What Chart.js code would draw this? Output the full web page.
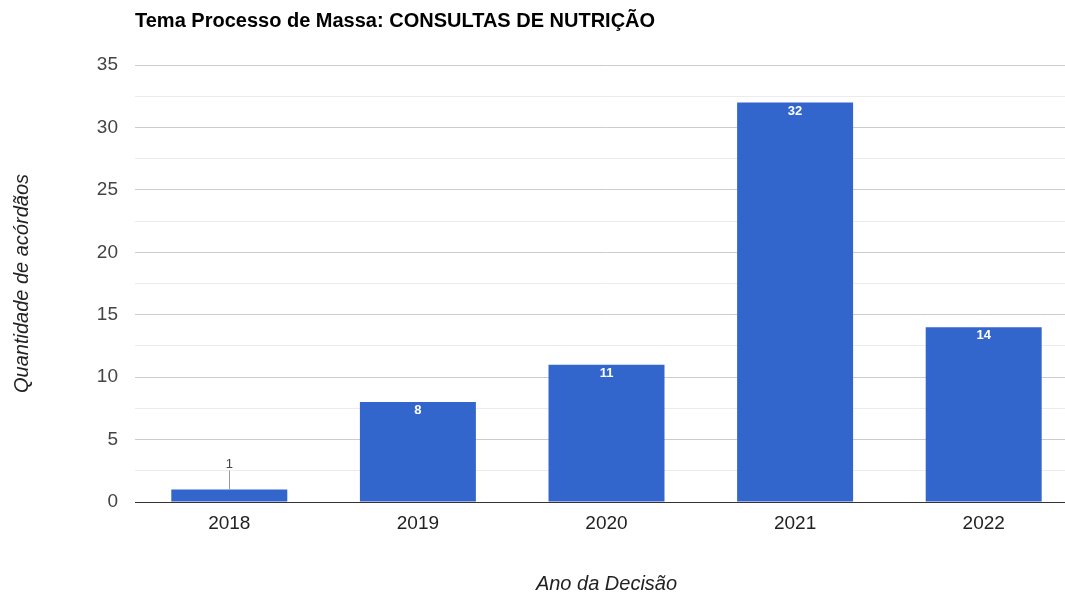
<!DOCTYPE html>
<html>
<head>
<meta charset="utf-8">
<script src="https://cdn.jsdelivr.net/npm/chart.js@4"></script>
<style>
  html, body { margin: 0; padding: 0; overflow: hidden; background: #fff; }
  #wrap { width: 1078px; height: 596px; }
</style>
</head>
<body>
<div id="wrap"><canvas id="chart" width="1078" height="596"></canvas></div>
<script>
const years = ["2018", "2019", "2020", "2021", "2022"];
const counts = [1, 8, 11, 32, 14];
const chartTitle = "Tema Processo de Massa: CONSULTAS DE NUTRIÇÃO";
const yTitle = "Quantidade de acórdãos";
const xTitle = "Ano da Decisão";

Chart.defaults.font.family = "'Liberation Sans', Arial, sans-serif";

// title drawn at the left edge of the plot, like the original
const titlePlugin = {
  id: "leftTitle",
  afterDraw(chart) {
    const ctx = chart.ctx;
    ctx.save();
    ctx.font = "bold 20px 'Liberation Sans', Arial, sans-serif";
    ctx.fillStyle = "#000";
    ctx.textAlign = "left";
    ctx.textBaseline = "middle";
    ctx.fillText(chartTitle, chart.chartArea.left, 21);
    ctx.restore();
  }
};

// value labels inside the bar top, or above with a leader when the bar is short
const labelPlugin = {
  id: "barLabels",
  afterDatasetsDraw(chart) {
    const ctx = chart.ctx;
    const meta = chart.getDatasetMeta(0);
    ctx.save();
    ctx.textAlign = "center";
    meta.data.forEach((bar, i) => {
      const v = counts[i];
      const h = bar.base - bar.y;
      if (h > 20) {
        ctx.font = "bold 13px 'Liberation Sans', Arial, sans-serif";
        ctx.fillStyle = "#fff";
        ctx.textBaseline = "top";
        ctx.fillText(String(v), bar.x, bar.y + 2);
      } else {
        ctx.strokeStyle = "#999";
        ctx.lineWidth = 1;
        ctx.beginPath();
        ctx.moveTo(Math.round(bar.x) + 0.5, bar.y);
        ctx.lineTo(Math.round(bar.x) + 0.5, bar.y - 19);
        ctx.stroke();
        ctx.font = "13px 'Liberation Sans', Arial, sans-serif";
        ctx.fillStyle = "#444";
        ctx.textBaseline = "bottom";
        ctx.fillText(String(v), bar.x, bar.y - 19);
      }
    });
    ctx.restore();
  }
};

new Chart(document.getElementById("chart"), {
  type: "bar",
  data: {
    labels: years,
    datasets: [{
      data: counts,
      backgroundColor: "#3366cc",
      barPercentage: 0.615,
      categoryPercentage: 1.0,
    }],
  },
  options: {
    responsive: false,
    animation: false,
    layout: { padding: { top: 65, right: 0, left: 0, bottom: 0 } },
    plugins: {
      legend: { display: false },
      tooltip: { enabled: false },
    },
    scales: {
      x: {
        grid: { display: false, drawTicks: false },
        border: { display: true, color: "#333", width: 1 },
        ticks: { color: "#222", font: { size: 19 }, padding: 10 },
        title: {
          display: true,
          text: xTitle,
          color: "#222",
          font: { size: 20, style: "italic" },
          padding: { top: 0, bottom: 0 },
        },
        afterFit(scale) { scale.height = 94; },
      },
      y: {
        min: 0,
        max: 35,
        ticks: {
          stepSize: 2.5,
          color: "#444",
          font: { size: 19 },
          padding: 17,
          callback: (v) => (v % 5 === 0 ? v : ""),
        },
        grid: {
          drawTicks: false,
          color: (c) => {
            if (c.tick.value === 0) return "rgba(0,0,0,0)";
            return c.tick.value % 5 === 0 ? "#cccccc" : "#ebebeb";
          },
        },
        border: { display: false },
        title: {
          display: true,
          text: yTitle,
          color: "#222",
          font: { size: 20, style: "italic" },
          padding: { top: 10, bottom: 0 },
        },
        afterFit(scale) { scale.width = 135; },
      },
    },
  },
  plugins: [titlePlugin, labelPlugin],
});
</script>
</body>
</html>
